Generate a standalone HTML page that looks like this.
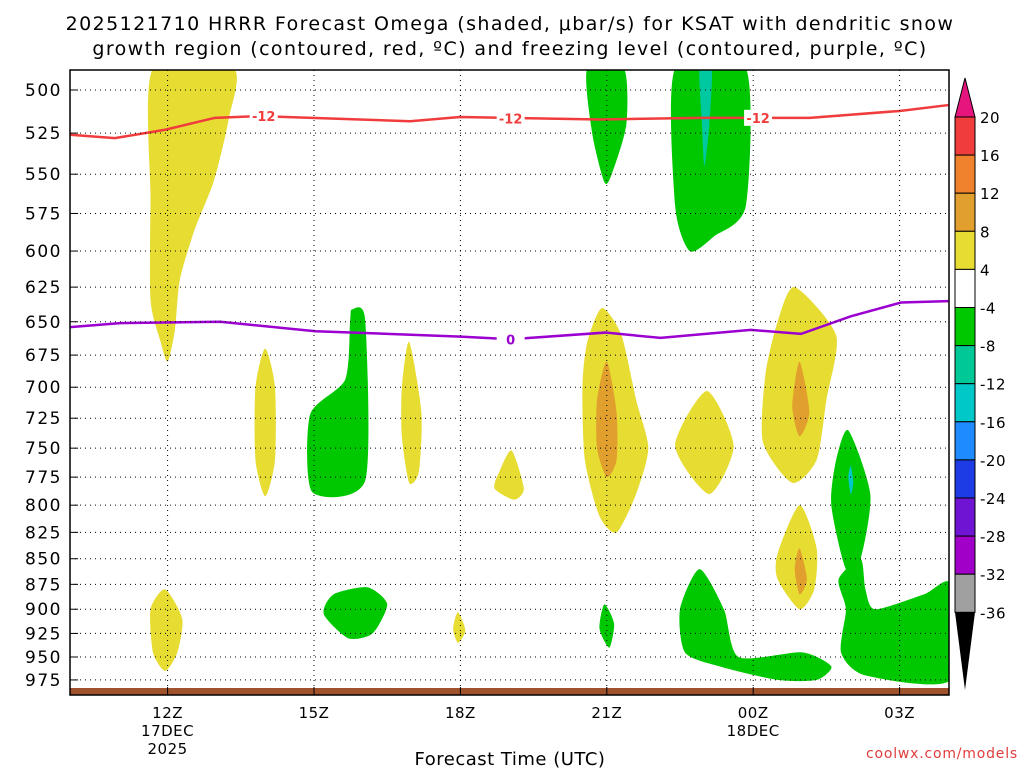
<!DOCTYPE html>
<html><head><meta charset="utf-8"><style>
body{margin:0;background:#fff;}
svg text{font-family:"DejaVu Sans","Liberation Sans",sans-serif;}
</style></head><body>
<svg id="c" width="1024" height="768" xmlns="http://www.w3.org/2000/svg">
<text x="510" y="30" font-size="19" letter-spacing="1.4" text-anchor="middle">2025121710 HRRR Forecast Omega (shaded, μbar/s) for KSAT with dendritic snow</text>
<text x="510" y="55" font-size="19" letter-spacing="1.4" text-anchor="middle">growth region (contoured, red, ºC) and freezing level (contoured, purple, ºC)</text>
<g id="plot"></g>
<text x="510" y="765" font-size="18" letter-spacing="0.5" text-anchor="middle">Forecast Time (UTC)</text>
<text x="1018" y="758" font-size="14" letter-spacing="0.8" fill="#e03c3c" text-anchor="end">coolwx.com/models</text>
</svg>
<script>
const pLevels=[500,525,550,575,600,625,650,675,700,725,750,775,800,825,850,875,900,925,950,975];
const xTickHours=[12,15,18,21,24,27];
const xTickLabels=["12Z","15Z","18Z","21Z","00Z","03Z"];
const shapeColors=["#e6dc32","#e6dc32","#00c800","#e6dc32","#e6dc32","#e6dc32","#e1a02d","#00c800","#00c800","#00c8a0","#e6dc32","#e6dc32","#e1a02d","#e6dc32","#e1a02d","#00c800","#00c8c8","#00c800","#00c800","#e6dc32","#00c800","#e6dc32","#00c800"];
const shapes=[
[[11.7,488],[13.35,488],[13.25,517],[12.95,554],[12.55,586],[12.25,620],[12.15,656],[12.0,680],[11.85,664],[11.65,634],[11.65,566]],
[[14.0,670],[14.2,700],[14.2,760],[14.0,792],[13.8,760],[13.8,700]],
[[15.78,641],[16.05,649],[16.05,778],[14.96,788],[14.92,722],[15.64,694],[15.74,649]],
[[16.95,665],[17.2,720],[17.15,770],[16.95,780],[16.8,740],[16.8,700]],
[[19.05,752],[19.3,785],[19.1,795],[18.7,785],[18.8,770]],
[[20.9,640],[21.3,660],[21.6,710],[21.85,750],[21.6,790],[21.2,825],[20.85,810],[20.55,760],[20.5,700],[20.6,665]],
[[21.0,680],[21.2,720],[21.2,760],[21.0,775],[20.8,750],[20.8,710]],
[[20.6,488],[21.35,488],[21.4,520],[21.1,550],[20.95,555],[20.7,525]],
[[22.4,488],[23.85,488],[23.85,570],[23.2,590],[22.7,600],[22.4,570]],
[[22.9,488],[23.15,488],[23.1,520],[23.0,545],[22.95,520]],
[[23.05,703],[23.6,748],[23.1,790],[22.4,748]],
[[24.85,625],[25.7,660],[25.5,710],[25.3,760],[24.8,780],[24.2,745],[24.25,690],[24.5,650]],
[[24.95,680],[25.15,720],[24.95,740],[24.8,715]],
[[24.95,800],[25.3,840],[25.25,880],[24.95,900],[24.5,870],[24.5,845]],
[[24.95,840],[25.1,870],[24.95,885],[24.85,860]],
[[25.95,735],[26.4,790],[26.2,850],[25.9,860],[25.6,800],[25.7,760]],
[[26.0,765],[26.05,780],[26.0,790],[25.95,775]],
[[26.2,850],[26.3,880],[26.5,900],[27.5,885],[28.05,875],[28.05,975],[26.3,970],[25.8,945],[25.9,900],[25.75,870]],
[[22.9,860],[23.4,900],[23.7,950],[25.0,945],[25.6,960],[25.3,975],[24.5,975],[23.3,960],[22.6,945],[22.5,900]],
[[11.95,880],[12.3,910],[12.2,945],[11.95,965],[11.7,945],[11.65,900]],
[[16.1,878],[16.5,895],[16.2,925],[15.7,930],[15.2,905],[15.4,885]],
[[17.95,903],[18.1,922],[17.95,935],[17.85,920]],
[[20.95,895],[21.15,915],[21.05,940],[20.85,920]]
];
const redHours=[10,10.92,11.95,12.97,13.89,16.97,17.99,20.86,22.91,25.16,27.0,28.0];
const redP=[526,528,523,516,515,518,515.5,517,516,516,512,508.6];
const purpleHours=[10,11.03,13.08,15.03,18.0,19.03,20.97,22.1,23.95,24.98,26.0,27.03,28.0];
const purpleP=[654,651,650,657,661,663,658,662,656,659,646,636,635];
const cbLevels=["20","16","12","8","4","-4","-8","-12","-16","-20","-24","-28","-32","-36"];
const cbColors=["#f03c3c","#f0822d","#e1a02d","#e6dc32","#ffffff","#00c800","#00c896","#00c8c8","#1e8cff","#1e3ce6","#6e14d2","#a000c8","#a0a0a0"];

const L=70,R=949,T=70,B=695;
const X=h=>L+(h-10)*48.8;
const Y=p=>90+2034*Math.log10(p/500);
const NS="http://www.w3.org/2000/svg";
const g=document.getElementById('plot');
function mk(t,a,parent){const e=document.createElementNS(NS,t);for(const k in a)e.setAttribute(k,a[k]);(parent||g).appendChild(e);return e;}
function smooth(pts){const n=pts.length;let d=`M${pts[0][0]},${pts[0][1]}`;const k=0.12;
 for(let i=0;i<n;i++){const p0=pts[(i-1+n)%n],p1=pts[i],p2=pts[(i+1)%n],p3=pts[(i+2)%n];
 d+=` C${p1[0]+(p2[0]-p0[0])*k},${p1[1]+(p2[1]-p0[1])*k} ${p2[0]-(p3[0]-p1[0])*k},${p2[1]-(p3[1]-p1[1])*k} ${p2[0]},${p2[1]}`;}
 return d+'Z';}
const clip=mk('clipPath',{id:'pc'});mk('rect',{x:L,y:T,width:R-L,height:B-T},clip);
const sg=mk('g',{'clip-path':'url(#pc)'});
shapes.forEach((s,i)=>{
 const e=mk('path',{d:smooth(s.map(q=>[X(q[0]),Y(q[1])])),fill:shapeColors[i]},sg);
 
 
});
const ground=mk('rect',{x:L,y:688,width:R-L,height:7,fill:'#a0522d'});


pLevels.forEach(p=>{
 const y=Y(p);
 mk('line',{x1:L,x2:R,y1:y,y2:y,stroke:'#000','stroke-width':1,'stroke-dasharray':'1,4'});
 mk('line',{x1:L,x2:L+8,y1:y,y2:y,stroke:'#000'});
 const t=mk('text',{x:62,y:y+6,'font-size':17,'letter-spacing':1.5,'text-anchor':'end'});t.textContent=p;
 
 
});
xTickHours.forEach((h,i)=>{
 const x=X(h);
 mk('line',{x1:x,x2:x,y1:T,y2:B,stroke:'#000','stroke-dasharray':'1,4'});
 mk('line',{x1:x,x2:x,y1:B,y2:B-8,stroke:'#000'});
 const t=mk('text',{x:x,y:718,'font-size':15,'letter-spacing':0.5,'text-anchor':'middle'});t.textContent=xTickLabels[i];
 
 
});
[["17DEC",X(12),736],["2025",X(12),754],["18DEC",X(24),736]].forEach(d=>{const t=mk('text',{x:d[1],y:d[2],'font-size':15,'letter-spacing':0.5,'text-anchor':'middle'});t.textContent=d[0];
 
 });
function line(hs,ps,col,name){const e=mk('polyline',{points:hs.map((h,i)=>X(h)+','+Y(ps[i])).join(' '),fill:'none',stroke:col,'stroke-width':2.5},sg);
 
 }
line(redHours,redP,'#f03c3c','dgz-contour-minus12');
line(purpleHours,purpleP,'#9b00d0','freezing-level-contour');
function lab(h,p,txt,col){const x=X(h),y=Y(p);mk('rect',{x:x-14,y:y-8,width:28,height:16,fill:'#fff'});const t=mk('text',{x:x,y:y+5,'font-size':13,'font-weight':'bold',fill:col,'text-anchor':'middle'});t.textContent=txt;
 
 }
lab(13.97,515,'-12','#f03c3c');lab(19.03,516.5,'-12','#f03c3c');lab(24.1,516,'-12','#f03c3c');lab(19.03,663,'0','#9b00d0');
const frame=mk('rect',{x:L,y:T,width:R-L,height:B-T,fill:'none',stroke:'#000','stroke-width':1.5});


const cx=955,cw=20,cy0=117,step=38.1;
mk('polygon',{points:`${cx},${cy0} ${cx+cw},${cy0} ${cx+cw/2},78`,fill:'#e6157d',stroke:'#000'});
cbColors.forEach((c,i)=>{const r=mk('rect',{x:cx,y:cy0+i*step,width:cw,height:step,fill:c,stroke:'#000'});
 
 });
const yb=cy0+cbColors.length*step;
mk('polygon',{points:`${cx},${yb} ${cx+cw},${yb} ${cx+cw/2},690`,fill:'#000'});
cbLevels.forEach((v,i)=>{const t=mk('text',{x:980,y:cy0+i*step+6,'font-size':15,'letter-spacing':0.5});t.textContent=v;
 
 });
</script>
</body></html>
